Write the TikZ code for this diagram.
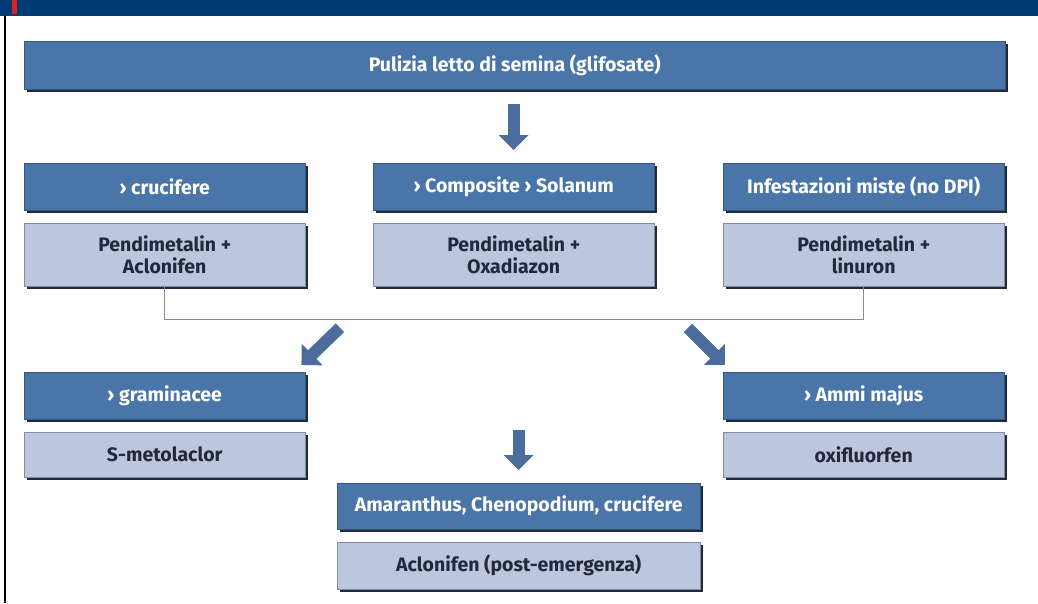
\documentclass[tikz,border=0pt]{standalone}
\usepackage{fontspec}
\setmainfont{Fira Sans}
\usepackage{xcolor}
\definecolor{cBand}{HTML}{003B73}
\definecolor{cRed}{HTML}{E0201E}
\definecolor{cHead}{HTML}{4A75A8}
\definecolor{cSub}{HTML}{BCC7DF}
\definecolor{cShade}{HTML}{222A38}
\definecolor{cInk}{HTML}{23283A}
\definecolor{cArrow}{HTML}{4B6C9C}
\definecolor{cLine}{HTML}{8C8C8C}
\usetikzlibrary{positioning,arrows.meta,shadows}
\tikzset{
  box-base/.style={rectangle,inner sep=2pt,align=center,
    font=\bfseries\fontsize{19.5}{22}\selectfont,
    drop shadow={shadow xshift=2.5pt,shadow yshift=-2.5pt,fill=cShade,opacity=1}},
  box-head/.style={box-base,fill=cHead,draw=cHead!75!black,text=white,
    minimum height=47pt},
  box-sub/.style={box-base,fill=cSub,draw=cSub!70!black,text=cInk},
  box-wide/.style={minimum width=281pt},
  fat-arrow/.style={-{Triangle[length=15pt,width=29pt]},line width=12pt,draw=cArrow},
  fork-line/.style={draw=cLine,line width=1.5pt},
}
\begin{document}
\begin{tikzpicture}[x=1pt,y=-1pt,node distance=12.5pt]
  \useasboundingbox (0,0) rectangle (1038,603);
  % testata
  \fill[cBand] (0,0) rectangle (1038,16);
  \fill[cRed] (12,0) rectangle (17,14);
  \draw[black,line width=2pt] (5,16) -- (5,603);

  \node[box-head,anchor=north west,minimum width=981pt,minimum height=48pt]
    (pulizia) at (24,41) {Pulizia letto di semina (glifosate)};

  % prima fila
  \node[box-head,box-wide,anchor=north west] (cruc) at (24,163) {› crucifere};
  \node[box-head,box-wide,anchor=north west] (comp) at (373,163) {› Composite › Solanum};
  \node[box-head,box-wide,anchor=north west] (infest) at (723,163) {Infestazioni miste (no DPI)};
  \node[box-sub,box-wide,minimum height=63pt,below=of cruc] (cruc-sub) {Pendimetalin +\\Aclonifen};
  \node[box-sub,box-wide,minimum height=63pt,below=of comp] (comp-sub) {Pendimetalin +\\Oxadiazon};
  \node[box-sub,box-wide,minimum height=63pt,below=of infest] (infest-sub) {Pendimetalin +\\linuron};

  % seconda fila
  \node[box-head,box-wide,anchor=north west] (gram) at (24,372) {› graminacee};
  \node[box-head,box-wide,anchor=north west] (ammi) at (723,372) {› Ammi majus};
  \node[box-sub,box-wide,minimum height=45pt,below=of gram] (gram-sub) {S-metolaclor};
  \node[box-sub,box-wide,minimum height=45pt,below=of ammi] (ammi-sub) {oxifluorfen};

  \node[box-head,anchor=north west,minimum width=363pt,minimum height=46pt]
    (amar) at (337,483) {Amaranthus, Chenopodium, crucifere};
  \node[box-sub,minimum width=363pt,minimum height=47pt,below=of amar]
    (amar-sub) {Aclonifen (post-emergenza)};

  % collegamenti
  \draw[fork-line] (cruc-sub.south) -- ++(0,33) -| (infest-sub.south);
  \coordinate (fork-l) at (350,318);
  \coordinate (fork-r) at (678,318);

  \draw[fat-arrow,shorten <=15pt,shorten >=13pt] (comp.north |- pulizia.south) -- (comp.north);
  \draw[fat-arrow,shorten <=14pt] (fork-l) -- ([shift={(-4,-7)}]gram.north east);
  \draw[fat-arrow,shorten <=14pt] (fork-r) -- ([shift={(2,-7)}]ammi.north west);
  \draw[fat-arrow,shorten <=112pt,shorten >=13pt] (amar.north |- fork-l) -- (amar.north);
\end{tikzpicture}
\end{document}
